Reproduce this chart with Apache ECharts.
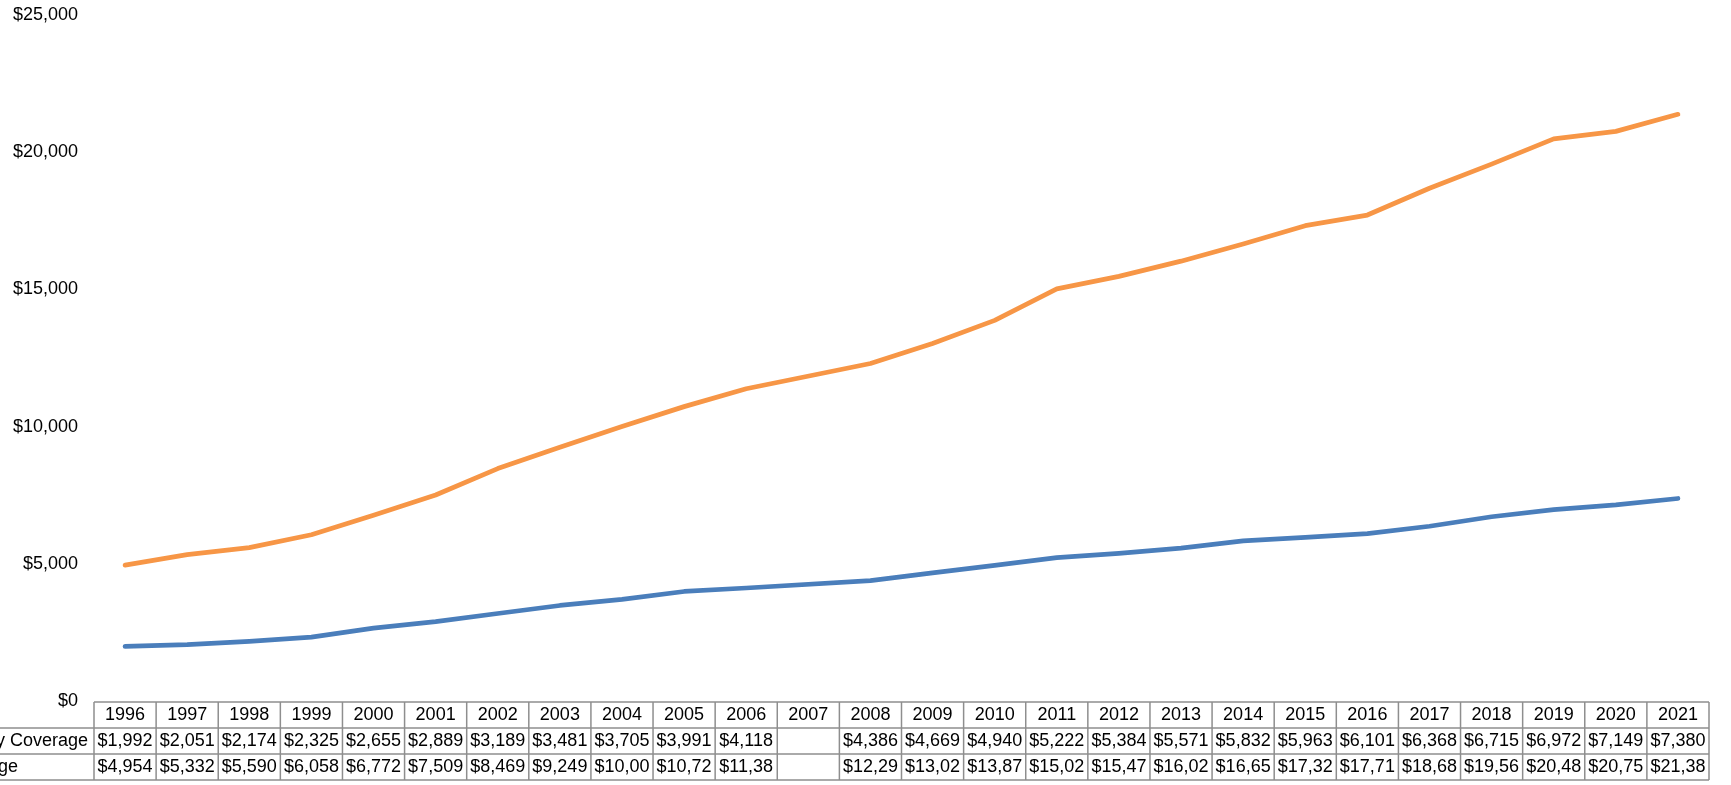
<!DOCTYPE html>
<html>
<head>
<meta charset="utf-8">
<script src="https://cdn.jsdelivr.net/npm/echarts@6/dist/echarts.min.js"></script>
<style>
  html, body { margin: 0; padding: 0; background: #ffffff; }
  #chart { width: 1731px; height: 785px; }
</style>
</head>
<body>
<div id="chart"></div>
<script>
// Average annual premiums per enrolled employee, 1996–2021 (no survey in 2007)
const years = ['1996','1997','1998','1999','2000','2001','2002','2003','2004','2005','2006','2007','2008',
               '2009','2010','2011','2012','2013','2014','2015','2016','2017','2018','2019','2020','2021'];
const seriesNames = ['Employee-Only Coverage', 'Family Coverage'];
const employeeOnly = [1992, 2051, 2174, 2325, 2655, 2889, 3189, 3481, 3705, 3991, 4118, null, 4386,
                      4669, 4940, 5222, 5384, 5571, 5832, 5963, 6101, 6368, 6715, 6972, 7149, 7380];
const family = [4954, 5332, 5590, 6058, 6772, 7509, 8469, 9249, 10006, 10728, 11381, null, 12298,
                13027, 13871, 15022, 15473, 16029, 16655, 17322, 17710, 18687, 19565, 20486, 20758, 21381];
const yMin = 0, yMax = 25000, yStep = 5000;

const FONT_FAMILY = '"Liberation Sans", Arial, sans-serif';
const money = v => (v == null ? '' : '$' + v.toLocaleString('en-US'));

const chart = echarts.init(document.getElementById('chart'), null, { renderer: 'canvas' });

chart.setOption({
  animation: false,
  backgroundColor: '#ffffff',
  grid: { left: 94, right: 22, top: 15, bottom: 84, containLabel: false },
  xAxis: {
    type: 'category',
    data: years,
    boundaryGap: true,
    axisLine: { show: false },
    axisTick: { show: false },
    axisLabel: { show: false },
    splitLine: { show: false }
  },
  yAxis: {
    type: 'value',
    min: yMin, max: yMax, interval: yStep,
    axisLine: { show: false },
    axisTick: { show: false },
    splitLine: { show: false },
    axisLabel: {
      margin: 16,
      color: '#000000',
      fontSize: 18,
      fontFamily: FONT_FAMILY,
      formatter: v => money(v)
    }
  },
  series: [
    {
      name: seriesNames[0], type: 'line', data: employeeOnly,
      connectNulls: true, showSymbol: false, symbol: 'none',
      lineStyle: { color: '#4a7ebb', width: 4.75, cap: 'round', join: 'round' }
    },
    {
      name: seriesNames[1], type: 'line', data: family,
      connectNulls: true, showSymbol: false, symbol: 'none',
      lineStyle: { color: '#f79646', width: 4.75, cap: 'round', join: 'round' }
    }
  ]
});

// Data table under the plot, aligned to the category axis
function drawTable() {
  const c0 = chart.convertToPixel({ xAxisIndex: 0 }, 0);
  const c1 = chart.convertToPixel({ xAxisIndex: 0 }, 1);
  const colW = c1 - c0;
  const left = c0 - colW / 2;
  const right = left + colW * years.length;
  const top = Math.round(chart.convertToPixel({ yAxisIndex: 0 }, 0)) + 1;
  const rowH = 26;
  const stroke = '#8e8e8e';
  const lw = 1.5;
  const font = '18px ' + FONT_FAMILY;
  const els = [];

  const line = (x1, y1, x2, y2) => els.push({
    type: 'line', silent: true,
    shape: { x1, y1, x2, y2 },
    style: { stroke, lineWidth: lw }
  });
  const text = (t, x, y, opts) => els.push({
    type: 'text', silent: true,
    style: Object.assign({
      text: t, x, y, font, fill: '#000000',
      align: 'center', verticalAlign: 'middle'
    }, opts || {})
  });

  // horizontal rules
  line(left, top, right, top);
  for (let r = 1; r <= 3; r++) line(-5, top + rowH * r, right, top + rowH * r);
  // vertical rules
  for (let i = 0; i <= years.length; i++) {
    const x = left + colW * i;
    line(x, top, x, top + rowH * 3);
  }

  const rows = [employeeOnly, family];
  years.forEach((yr, i) => {
    const cx = chart.convertToPixel({ xAxisIndex: 0 }, i);
    text(yr, cx, top + rowH * 0.5);
    rows.forEach((vals, r) => {
      text(money(vals[i]), cx, top + rowH * (r + 1.5), {
        width: colW - 2, overflow: 'truncate', ellipsis: ''
      });
    });
  });

  // series names, left aligned in the label column
  seriesNames.forEach((name, r) => {
    text(name, -118, top + rowH * (r + 1.5), { align: 'left' });
  });

  chart.setOption({ graphic: { elements: els } });
}

drawTable();
</script>
</body>
</html>
